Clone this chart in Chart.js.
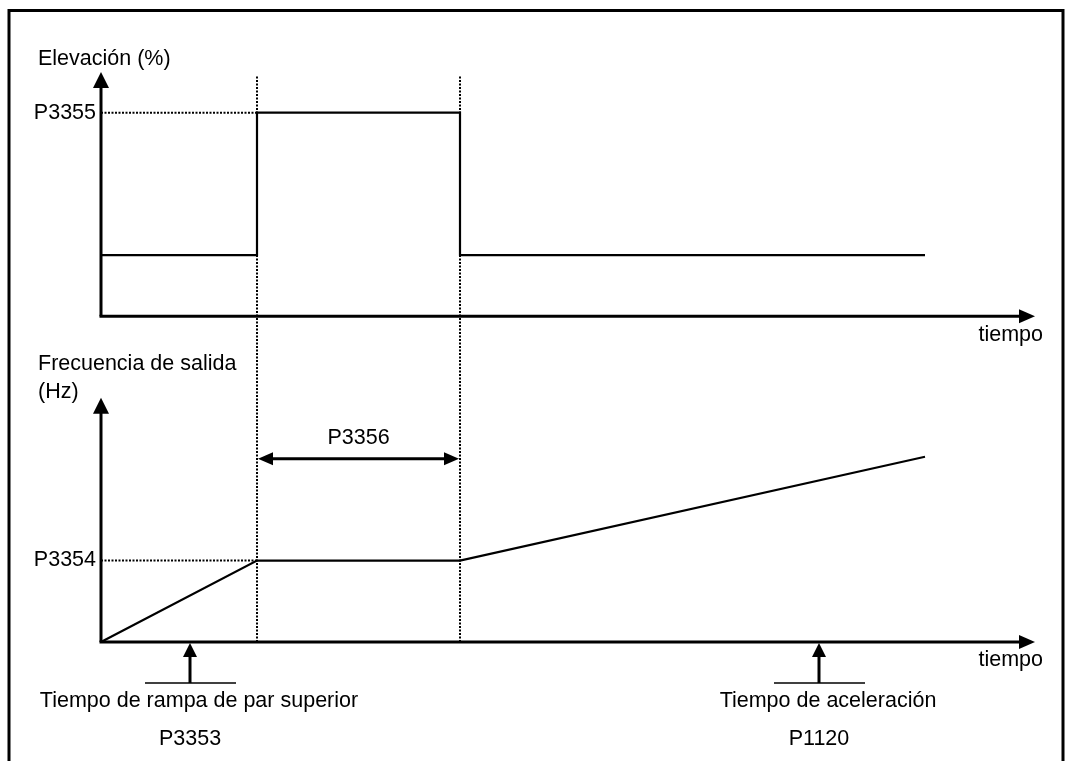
<!DOCTYPE html>
<html>
<head>
<meta charset="utf-8">
<script src="https://cdn.jsdelivr.net/npm/chart.js@4.4.1/dist/chart.umd.min.js"></script>
<style>
  body { margin: 0; background: #fff; }
  canvas { display: block; }
</style>
</head>
<body>
<canvas id="chart" width="1069" height="761"></canvas>
<script>
// Elevación (%) trace - step up to P3355 while the boost is active
const elevTimes = [0, 15.6, 15.6, 35.9, 35.9, 82.4];
const elevValues = [30, 30, 100, 100, 30, 30];

// Frecuencia de salida (Hz) trace
const freqTimes = [0, 15.6, 35.9, 82.4];
const freqValues = [0, 20, 20, 45.5];

// level ticks
const elevLevel = 100;   // P3355
const freqLevel = 20;    // P3354
const elevTickLabel = "P3355";
const freqTickLabel = "P3354";

// boost start / end times (dotted guides) and hold label
const guideTimes = [15.6, 35.9];
const holdLabel = "P3356";
const holdLevel = 45;

// markers under the time axis
const markerTimes = [8.9, 71.8];
const markerTexts = ["Tiempo de rampa de par superior", "Tiempo de aceleración"];
const markerParams = ["P3353", "P1120"];

const toXY = (xs, ys) => xs.map((x, i) => ({ x: x, y: ys[i] }));

const FONT = '21.5px "Liberation Sans", Arial, sans-serif';

function head(ctx, x, y, dir, len, half) {
  ctx.beginPath();
  ctx.moveTo(x, y);
  if (dir === "up") { ctx.lineTo(x - half, y + len); ctx.lineTo(x + half, y + len); }
  if (dir === "right") { ctx.lineTo(x - len, y - half); ctx.lineTo(x - len, y + half); }
  if (dir === "left") { ctx.lineTo(x + len, y - half); ctx.lineTo(x + len, y + half); }
  ctx.closePath();
  ctx.fill();
}

function line(ctx, x1, y1, x2, y2, w) {
  ctx.beginPath();
  ctx.lineWidth = w;
  ctx.moveTo(x1, y1);
  ctx.lineTo(x2, y2);
  ctx.stroke();
}

const diagram = {
  id: "diagram",
  beforeDraw(chart) {
    const ctx = chart.ctx;
    ctx.save();
    ctx.fillStyle = "#fff";
    ctx.fillRect(0, 0, chart.width, chart.height);
    // frame
    ctx.strokeStyle = "#000";
    ctx.lineWidth = 3;
    ctx.beginPath();
    ctx.moveTo(9, 780);
    ctx.lineTo(9, 10.5);
    ctx.lineTo(1063, 10.5);
    ctx.lineTo(1063, 780);
    ctx.stroke();
    ctx.restore();
  },
  afterDraw(chart) {
    const ctx = chart.ctx;
    const xs = chart.scales.x, yt = chart.scales.yTop, yb = chart.scales.yBot;
    const area = chart.chartArea;
    const x0 = xs.getPixelForValue(0);
    ctx.save();
    ctx.strokeStyle = "#000";
    ctx.fillStyle = "#000";

    // axes
    const topAxisY = yt.getPixelForValue(0);
    const botAxisY = yb.getPixelForValue(0);
    [topAxisY, botAxisY].forEach(ay => {
      line(ctx, x0 - 1.5, ay, area.right - 12, ay, 3);
      head(ctx, area.right, ay, "right", 16, 7);
    });
    line(ctx, x0, topAxisY, x0, yt.getPixelForValue(120) + 12, 3);
    head(ctx, x0, yt.getPixelForValue(120), "up", 16, 8);
    const botTop = yb.getPixelForValue(60);
    line(ctx, x0, botAxisY, x0, botTop + 12, 3);
    head(ctx, x0, botTop, "up", 16, 8);

    // texts
    ctx.font = FONT;
    ctx.textBaseline = "alphabetic";
    ctx.textAlign = "left";
    ctx.fillText("Elevación (%)", 38, 65);
    ctx.fillText("Frecuencia de salida", 38, 370);
    ctx.fillText("(Hz)", 38, 398);
    ctx.textAlign = "right";
    ctx.fillText("tiempo", 1043, topAxisY + 25);
    ctx.fillText("tiempo", 1043, botAxisY + 24);
    ctx.textBaseline = "middle";
    ctx.fillText(elevTickLabel, x0 - 5, yt.getPixelForValue(elevLevel));
    ctx.fillText(freqTickLabel, x0 - 5, yb.getPixelForValue(freqLevel));

    // P3356 double arrow
    const ha = xs.getPixelForValue(guideTimes[0]) + 1;
    const hb = xs.getPixelForValue(guideTimes[1]) - 1;
    const hy = yb.getPixelForValue(holdLevel);
    line(ctx, ha + 10, hy, hb - 10, hy, 3);
    head(ctx, ha, hy, "left", 15, 6.5);
    head(ctx, hb, hy, "right", 15, 6.5);
    ctx.textAlign = "center";
    ctx.textBaseline = "alphabetic";
    ctx.fillText(holdLabel, (ha + hb) / 2, hy - 15);

    // markers
    markerTimes.forEach((t, i) => {
      const mx = xs.getPixelForValue(t);
      const tip = botAxisY + 1;
      const base = botAxisY + 41;
      line(ctx, mx, base, mx, tip + 12, 3);
      head(ctx, mx, tip, "up", 14, 7);
      line(ctx, mx - 45, base, mx + 46, base, 1.5);
      ctx.textAlign = "center";
      ctx.fillText(markerTexts[i], mx + 9, 707);
      ctx.fillText(markerParams[i], mx, 745);
    });
    ctx.restore();
  }
};

const dotted = { borderColor: "#000", borderWidth: 2, borderDash: [2, 1.5], pointRadius: 0, fill: false, clip: false };

new Chart(document.getElementById("chart"), {
  type: "line",
  data: {
    datasets: [
      { label: "Elevación", yAxisID: "yTop", data: toXY(elevTimes, elevValues),
        borderColor: "#000", borderWidth: 2.2, pointRadius: 0, tension: 0, clip: false },
      { label: "Frecuencia", yAxisID: "yBot", data: toXY(freqTimes, freqValues),
        borderColor: "#000", borderWidth: 2.2, pointRadius: 0, tension: 0, clip: false },
      Object.assign({ label: "P3355 guide", yAxisID: "yTop",
        data: [{ x: 0, y: elevLevel }, { x: guideTimes[0], y: elevLevel }] }, dotted),
      Object.assign({ label: "P3354 guide", yAxisID: "yBot",
        data: [{ x: 0, y: freqLevel }, { x: guideTimes[0], y: freqLevel }] }, dotted),
      ...guideTimes.map(t => Object.assign({ label: "guide", yAxisID: "yBot",
        data: [{ x: t, y: 0 }, { x: t, y: 139 }] }, dotted))
    ]
  },
  options: {
    responsive: false,
    animation: false,
    layout: { padding: { left: 101, top: 72, right: 34, bottom: 119 } },
    plugins: { legend: { display: false }, tooltip: { enabled: false } },
    scales: {
      x: { type: "linear", min: 0, max: 93.4, display: false },
      yTop: { type: "linear", min: -160, max: 120, display: false },
      yBot: { type: "linear", min: 0, max: 140, display: false }
    }
  },
  plugins: [diagram]
});
</script>
</body>
</html>
